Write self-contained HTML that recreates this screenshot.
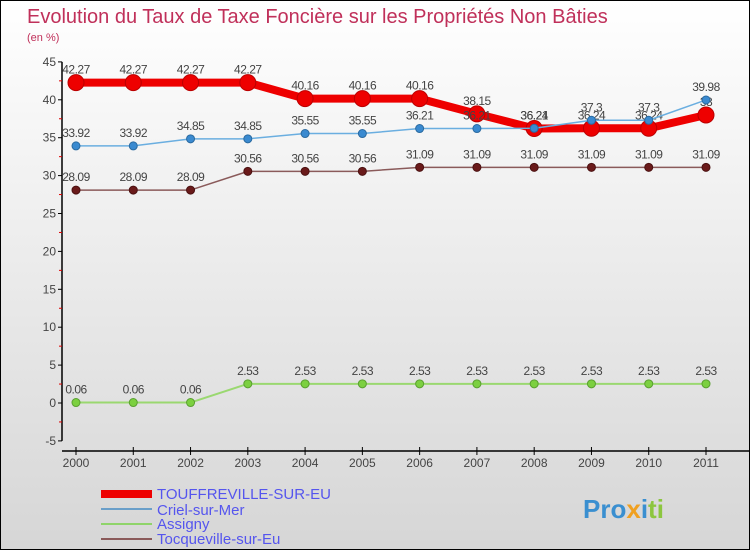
<!DOCTYPE html>
<html><head><meta charset="utf-8"><style>
body{margin:0;}
#c{width:750px;height:550px;position:relative;box-sizing:border-box;border:1px solid #000;background:linear-gradient(#ffffff,#d6d6d6);font-family:"Liberation Sans",sans-serif;overflow:hidden}
svg text{font-family:"Liberation Sans",sans-serif}
</style></head><body>
<div id="c">
<svg id="s" width="750" height="550">
<text x="26" y="22" font-size="20" fill="#c0305a">Evolution du Taux de Taxe Foncière sur les Propriétés Non Bâties</text>
<text x="26" y="40" font-size="11" fill="#c0305a">(en %)</text>
<g id="axes"></g><g id="series"></g>
<g>
<rect x="100" y="489" width="51" height="8" fill="#e00"/>
<text x="156" y="498" font-size="15" fill="#5555ee">TOUFFREVILLE-SUR-EU</text>
<rect x="100" y="507" width="51" height="2" fill="#6a9fc9"/>
<text x="156" y="514" font-size="15" fill="#5555ee">Criel-sur-Mer</text>
<rect x="100" y="522" width="51" height="2" fill="#8fd46a"/>
<text x="156" y="528" font-size="15" fill="#5555ee">Assigny</text>
<rect x="100" y="537" width="51" height="2" fill="#8a5a5a"/>
<text x="156" y="543" font-size="15" fill="#5555ee">Tocqueville-sur-Eu</text>
</g>
<text x="582" y="517" font-size="26" font-weight="bold"><tspan fill="#3a8fd0">Pro</tspan><tspan fill="#f0a020">x</tspan><tspan fill="#3a8fd0">i</tspan><tspan fill="#8cc63f">ti</tspan></text>
</svg></div>
<script>
const years=[2000,2001,2002,2003,2004,2005,2006,2007,2008,2009,2010,2011];
const yTicks=[-5,0,5,10,15,20,25,30,35,40,45];
const touffreville=[42.27,42.27,42.27,42.27,40.16,40.16,40.16,38.15,36.21,36.24,36.24,38];
const criel=[33.92,33.92,34.85,34.85,35.55,35.55,36.21,36.21,36.24,37.3,37.3,39.98];
const assigny=[0.06,0.06,0.06,2.53,2.53,2.53,2.53,2.53,2.53,2.53,2.53,2.53];
const tocqueville=[28.09,28.09,28.09,30.56,30.56,30.56,31.09,31.09,31.09,31.09,31.09,31.09];
const NS="http://www.w3.org/2000/svg";
const X=i=>75+i*(630/11);
const Y=v=>402-v*7.58;
function mk(t,a,p){const e=document.createElementNS(NS,t);for(const k in a)e.setAttribute(k,a[k]);p.appendChild(e);return e;}
const ax=document.getElementById('axes');
let l=mk('line',{x1:61,y1:Y(45),x2:61,y2:Y(-5),stroke:'#000','stroke-width':1.5},ax);


l=mk('line',{x1:61,y1:450,x2:750,y2:450,stroke:'#000','stroke-width':1.5},ax);


yTicks.forEach(v=>{mk('line',{x1:57,y1:Y(v),x2:61,y2:Y(v),stroke:'#000'},ax);
 if(v<45)mk('line',{x1:58,y1:Y(v+2.5),x2:61,y2:Y(v+2.5),stroke:'#d00'},ax);
 const t=mk('text',{x:55,y:Y(v)+4,'font-size':12,'text-anchor':'end',fill:'#444'},ax);t.textContent=v;
 
 });
years.forEach((yr,i)=>{mk('line',{x1:X(i),y1:446,x2:X(i),y2:454,stroke:'#000'},ax);
 const t=mk('text',{x:X(i),y:466,'font-size':12,'text-anchor':'middle',fill:'#444'},ax);t.textContent=yr;
 
 });
const sg=document.getElementById('series');
function series(name,vals,col,w,r,dot,dotStroke){
 const g=mk('g',{},sg);
 
 
 const p=mk('polyline',{points:vals.map((v,i)=>X(i)+','+Y(v)).join(' '),fill:'none',stroke:col,'stroke-width':w,'stroke-linejoin':'round'},g);
 
 
 vals.forEach((v,i)=>{const c=mk('circle',{cx:X(i),cy:Y(v),r:r,fill:dot,stroke:dotStroke,'stroke-width':1},g);
  
  
  const t=mk('text',{x:X(i),y:Y(v)-9,'font-size':12,'text-anchor':'middle',fill:'#444','letter-spacing':'-0.5'},g);t.textContent=v;
  
  });
}
series('tocqueville',tocqueville,'#8a5a5a',1.5,4,'#6a1a1a','#4a1010');
series('assigny',assigny,'#9ad870',2,4,'#7cd040','#5aa030');
series('touffreville',touffreville,'#e00',8,8,'#e00','#b00');
series('criel',criel,'#6aaee0',1.5,4,'#3a8ad0','#2a6aa0');
</script>
</body></html>
